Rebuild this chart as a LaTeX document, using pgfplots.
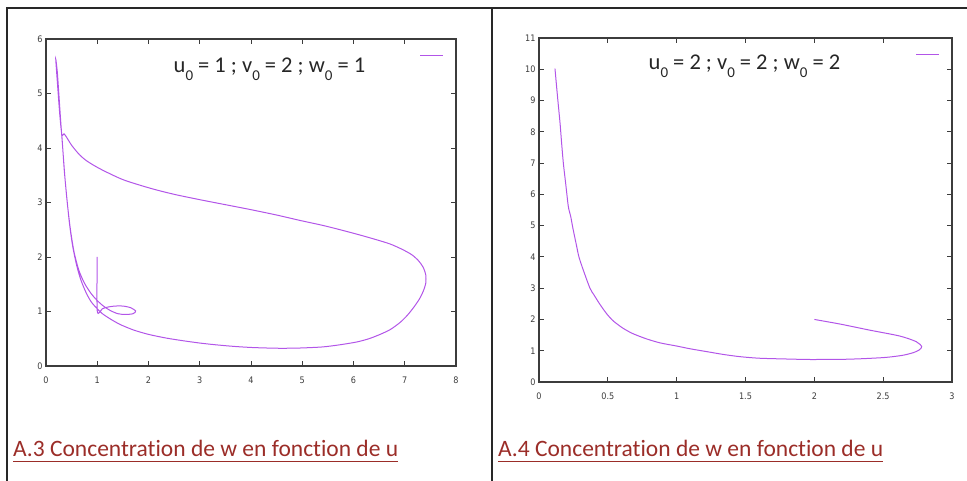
\documentclass[border=0pt]{standalone}
\usepackage{fontspec}
\setmainfont{Carlito}[Ligatures={NoCommon}]
\newfontfamily\tickfont{DejaVu Sans Condensed}
\usepackage{pgfplots}
\pgfplotsset{compat=1.18}
\definecolor{curve}{RGB}{178,85,232}
\definecolor{titlered}{RGB}{155,45,40}
\definecolor{axgray}{RGB}{60,60,60}
\definecolor{framegray}{RGB}{40,40,40}
\newcommand\sub[1]{\raisebox{-7.5pt}{\fontsize{15}{15}\selectfont #1}}
\pgfplotsset{
  gp/.style={
    scale only axis,
    axis line style={axgray, line width=1.2pt},
    tick style={axgray, line width=0.9pt},
    major tick length=5pt,
    minor tick num=0,
    tick label style={font=\tickfont\fontsize{9}{10}\selectfont, text=axgray},
    /pgf/number format/assume math mode=true,
    xticklabel style={yshift=-7pt},
    legend style={draw=none, fill=none, at={(rel axis cs:1,1)}, anchor=north east,
      xshift=-8pt, yshift=-14pt, inner sep=0pt, font=\fontsize{2}{2}\selectfont},
    legend image code/.code={\draw[#1] (0pt,0pt) -- (23pt,0pt);},
  }
}
\begin{document}
\begin{tikzpicture}[x=1pt,y=1pt]
\path[use as bounding box] (0pt,0pt) rectangle (967pt,481pt);
% frame
\draw[framegray, line width=1.4pt] (7pt,0pt) -- (7pt,473pt) -- (967pt,473pt);
\draw[framegray, line width=1.4pt] (492pt,0pt) -- (492pt,473pt);

% Left axis
\begin{axis}[gp, at={(46pt,115pt)}, anchor=south west, width=410pt, height=327pt,
  xmin=0, xmax=8, ymin=0, ymax=6, xtick={0,1,...,8}, ytick={0,1,...,6}]
\addplot[curve, line width=1pt, smooth, tension=0.45] coordinates {
(1.00,2.00) (1.00,1.01) (1.10,1.05) (1.20,1.08) (1.35,1.10) (1.50,1.10) (1.65,1.07)
(1.75,1.01) (1.70,0.96) (1.55,0.945) (1.40,0.96) (1.25,1.02) (1.12,1.10) (1.00,1.20)
(0.88,1.33) (0.75,1.52) (0.64,1.76) (0.55,2.08) (0.48,2.48) (0.42,2.95) (0.37,3.45)
(0.33,3.95) (0.29,4.45) (0.25,5.00) (0.22,5.40) (0.19,5.63) (0.23,5.10) (0.27,4.60)
(0.31,4.24) (0.35,4.26) (0.40,4.20) (0.50,4.05) (0.65,3.88) (0.80,3.76) (1.05,3.62)
(1.50,3.42) (2.04,3.26) (2.50,3.15) (3.01,3.05) (3.50,2.96) (3.99,2.87) (4.50,2.77)
(4.96,2.67) (5.40,2.58) (5.74,2.50) (6.10,2.41) (6.40,2.33) (6.71,2.24) (6.95,2.14)
(7.14,2.04) (7.27,1.93) (7.36,1.81) (7.41,1.67) (7.41,1.52) (7.36,1.37)
(7.28,1.22) (7.17,1.07) (7.05,0.93) (6.91,0.80) (6.72,0.67) (6.52,0.58) (6.30,0.50)
(6.06,0.44) (5.74,0.39) (5.40,0.35) (4.96,0.33) (4.60,0.325) (4.31,0.33) (4.00,0.34)
(3.66,0.36) (3.30,0.39) (3.01,0.42) (2.70,0.46) (2.36,0.51) (2.00,0.58) (1.71,0.66)
(1.45,0.76) (1.26,0.86) (1.10,0.96) (1.00,1.05) (0.88,1.18) (0.78,1.35) (0.68,1.58)
(0.60,1.84) (0.52,2.20) (0.46,2.60) (0.41,3.05) (0.36,3.55) (0.33,3.95) (0.31,4.22)
};
\addlegendentry{}
\end{axis}

% Right axis
\begin{axis}[gp, at={(539pt,99pt)}, anchor=south west, width=413pt, height=344pt,
  xmin=0, xmax=3, ymin=0, ymax=11, xtick={0,0.5,...,3}, ytick={0,1,...,11}]
\addplot[curve, line width=1pt, smooth, tension=0.45] coordinates {
(2.00,2.00) (2.19,1.85) (2.40,1.66) (2.62,1.47) (2.74,1.29) (2.78,1.13) (2.76,1.02)
(2.72,0.94) (2.65,0.86) (2.57,0.81) (2.50,0.78) (2.35,0.745) (2.21,0.725) (2.05,0.72)
(1.95,0.72) (1.80,0.735) (1.60,0.76) (1.46,0.81) (1.34,0.88) (1.22,0.97) (1.10,1.06)
(1.00,1.15) (0.88,1.25) (0.78,1.38) (0.68,1.55) (0.61,1.72) (0.54,1.95) (0.49,2.19)
(0.44,2.50) (0.40,2.78) (0.37,3.00) (0.32,3.60) (0.29,4.00) (0.274,4.33) (0.247,4.90)
(0.23,5.30) (0.213,5.61) (0.195,6.30) (0.177,6.99) (0.165,7.60) (0.153,8.27)
(0.135,9.10) (0.116,10.02)
};
\addlegendentry{}
\end{axis}

% annotations
\node[anchor=base, inner sep=0pt, font=\fontsize{22.5}{26}\selectfont, text=black!85]
  at (269.5pt,408pt) {u\sub{0} = 1 ; v\sub{0} = 2 ; w\sub{0} = 1};
\node[anchor=base, inner sep=0pt, font=\fontsize{22.5}{26}\selectfont, text=black!85]
  at (744.5pt,411pt) {u\sub{0}\ = 2 ; v\sub{0}\ = 2 ; w\sub{0} = 2};

% titles
\node[anchor=base west, inner sep=0pt, text=titlered, font=\fontsize{23.5}{28}\selectfont]
  (t1) at (13pt,24pt) {A.3 Concentration de w en fonction de u};
\draw[titlered, line width=1pt] ([yshift=-5pt]t1.base west) -- ([yshift=-5pt]t1.base east);
\node[anchor=base west, inner sep=0pt, text=titlered, font=\fontsize{23.5}{28}\selectfont]
  (t2) at (498pt,24pt) {A.4 Concentration de w en fonction de u};
\draw[titlered, line width=1pt] ([yshift=-5pt]t2.base west) -- ([yshift=-5pt]t2.base east);
\end{tikzpicture}
\end{document}
